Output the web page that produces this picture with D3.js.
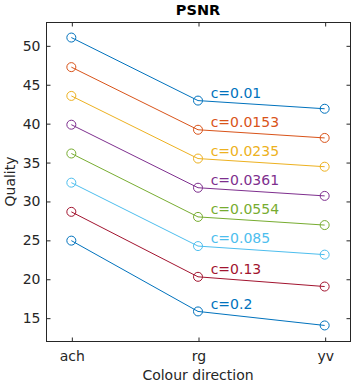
<!DOCTYPE html>
<html>
<head>
<meta charset="utf-8">
<script src="https://cdn.jsdelivr.net/npm/d3@7"></script>
<style>
  body { margin: 0; background: #fff; }
  text { font-family: "DejaVu Sans", sans-serif; }
</style>
</head>
<body>
<div class="canvas"></div>
<script>
// colour directions on the x axis
const categories = ['ach', 'rg', 'yv'];
// contrast levels, one line each
const contrasts = ['c=0.01', 'c=0.0153', 'c=0.0235', 'c=0.0361', 'c=0.0554', 'c=0.085', 'c=0.13', 'c=0.2'];
// PSNR values: [ach, rg, yv]
const s001 = [51.0, 42.9, 41.85];
const s0153 = [47.2, 39.15, 38.1];
const s0235 = [43.5, 35.45, 34.4];
const s0361 = [39.8, 31.7, 30.65];
const s0554 = [36.1, 27.95, 26.9];
const s085 = [32.35, 24.2, 23.1];
const s013 = [28.6, 20.25, 19.0];
const s02 = [24.9, 15.8, 14.0];
const series = [s001, s0153, s0235, s0361, s0554, s085, s013, s02];
const yTicks = [15, 20, 25, 30, 35, 40, 45, 50];

const colors = ['#0072BD', '#D95319', '#EDB120', '#7E2F8E', '#77AC30', '#4DBEEE', '#A2142F', '#0072BD'];
const axisCol = '#262626';

const dims = {width: 353, height: 384};
const box = {left: 46, right: 350, top: 22, bottom: 341};

const svg = d3.select('.canvas').append('svg')
    .attr('width', dims.width).attr('height', dims.height);

const x = d3.scaleLinear().domain([0.8, 3.2]).range([box.left, box.right]);
const y = d3.scaleLinear().domain([12, 53]).range([box.bottom, box.top]);

// box outline
svg.append('rect')
    .attr('x', box.left + 0.5).attr('y', box.top + 0.5)
    .attr('width', box.right - box.left).attr('height', box.bottom - box.top)
    .attr('fill', 'none').attr('stroke', axisCol).attr('stroke-width', 1);

// ticks pointing inward on all four sides (MATLAB box on)
const tickLen = 4;
const xTickVals = categories.map((c, i) => i + 1);

const bottomAxis = d3.axisBottom(x).tickValues(xTickVals)
    .tickFormat((d, i) => categories[i]).tickSizeInner(-tickLen).tickSizeOuter(0).tickPadding(10);
const leftAxis = d3.axisLeft(y).tickValues(yTicks).tickSizeInner(-tickLen).tickSizeOuter(0).tickPadding(6);

const gx = svg.append('g').attr('transform', `translate(0.5,${box.bottom + 0.5})`).call(bottomAxis);
const gy = svg.append('g').attr('transform', `translate(${box.left + 0.5},0.5)`).call(leftAxis);
const gxTop = svg.append('g').attr('transform', `translate(0.5,${box.top + 0.5})`)
    .call(d3.axisTop(x).tickValues(xTickVals).tickFormat('').tickSizeInner(-tickLen).tickSizeOuter(0));
const gyRight = svg.append('g').attr('transform', `translate(${box.right + 0.5},0.5)`)
    .call(d3.axisRight(y).tickValues(yTicks).tickFormat('').tickSizeInner(-tickLen).tickSizeOuter(0));

[gx, gy, gxTop, gyRight].forEach(g => {
    g.select('.domain').remove();
    g.selectAll('line').attr('stroke', axisCol);
    g.selectAll('text').attr('fill', axisCol).style('font-size', '14px')
        .style('font-family', '"DejaVu Sans", sans-serif');
});

// lines + circle markers
const line = d3.line().x((d, i) => x(i + 1)).y(d => y(d));

series.forEach((vals, k) => {
    svg.append('path')
        .attr('d', line(vals))
        .attr('fill', 'none')
        .attr('stroke', colors[k])
        .attr('stroke-width', 1);

    svg.selectAll(null)
        .data(vals)
        .enter()
        .append('circle')
            .attr('cx', (d, i) => x(i + 1))
            .attr('cy', d => y(d))
            .attr('r', 4.5)
            .attr('fill', 'none')
            .attr('stroke', colors[k])
            .attr('stroke-width', 1);

    // label sits just right of and above the rg point
    svg.append('text')
        .attr('x', x(2.1))
        .attr('y', y(vals[1] + 1))
        .attr('dy', '0.35em')
        .attr('fill', colors[k])
        .style('font-size', '14px')
        .text(contrasts[k]);
});

// title and axis labels
svg.append('text')
    .attr('x', (box.left + box.right) / 2).attr('y', 15)
    .attr('text-anchor', 'middle')
    .style('font-size', '14.5px').style('font-weight', 'bold')
    .attr('fill', '#000')
    .text('PSNR');

svg.append('text')
    .attr('x', (box.left + box.right) / 2).attr('y', 380)
    .attr('text-anchor', 'middle')
    .style('font-size', '14px')
    .attr('fill', axisCol)
    .text('Colour direction');

svg.append('text')
    .attr('transform', `translate(15,${(box.top + box.bottom) / 2}) rotate(-90)`)
    .attr('text-anchor', 'middle')
    .style('font-size', '14px')
    .attr('fill', axisCol)
    .text('Quality');
</script>
</body>
</html>
